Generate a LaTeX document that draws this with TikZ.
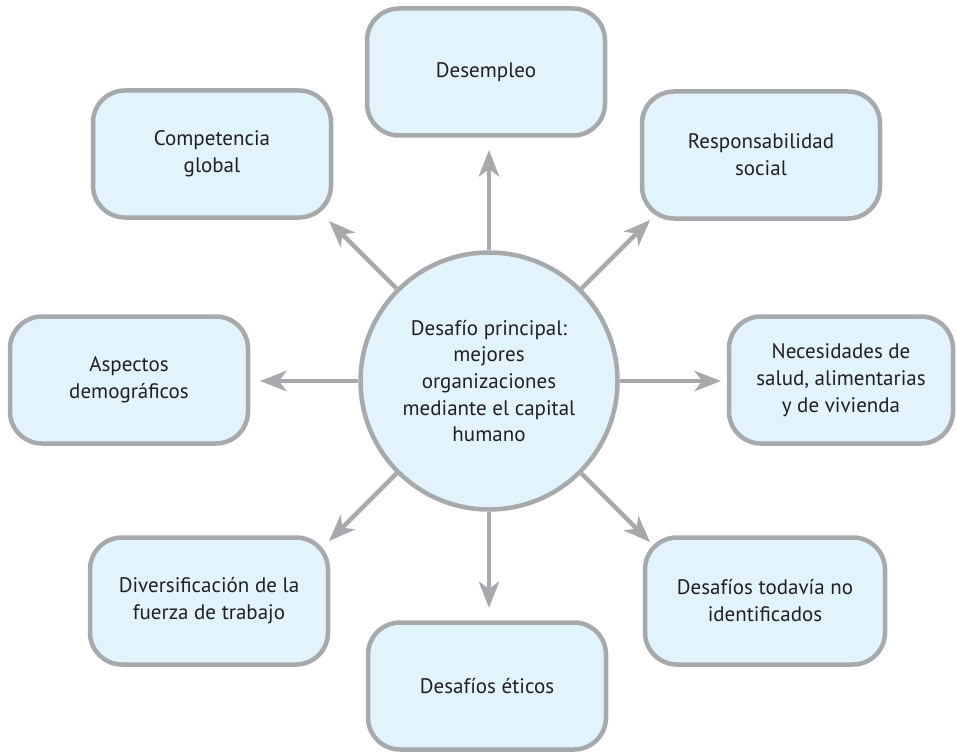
\documentclass[tikz,border=0pt]{standalone}
\usepackage{fontspec}
\setmainfont{PT Sans}
\usetikzlibrary{arrows.meta}
\definecolor{challengefill}{RGB}{225,243,251}
\definecolor{challengeline}{RGB}{167,169,172}
\definecolor{challengetext}{RGB}{35,31,32}
\tikzset{
  challenge/.style={draw=challengeline, line width=4.5pt, fill=challengefill,
    rounded corners=32pt, minimum width=238pt, minimum height=127pt,
    align=center, text=challengetext, font=\fontsize{21}{27}\selectfont},
  core/.style={circle, draw=challengeline, line width=4.5pt, fill=challengefill,
    minimum size=257pt, inner sep=0pt, align=center, text=challengetext,
    font=\fontsize{21}{26.7}\selectfont},
  push/.style={draw=challengeline, line width=4.5pt,
    -{Stealth[length=27pt,width=21pt,inset=8pt,line width=0pt]}}
}
\begin{document}
\begin{tikzpicture}[x=1pt,y=-1pt]
  \useasboundingbox (0,0) rectangle (957,754);
  \draw
    (489,381) node[core] (hub){Desafío principal:\\mejores\\organizaciones\\mediante el capital\\humano}
    (486,72) node[challenge] (desempleo){Desempleo}
    (212,154) node[challenge] (competencia){Competencia\\global}
    (761,155) node[challenge] (responsabilidad){Responsabilidad\\social}
    (129,380) node[challenge] (aspectos){Aspectos\\demográficos}
    (841,380) node[challenge, minimum width=224pt] (necesidades){Necesidades de\\salud, alimentarias\\y de vivienda}
    (209,601) node[challenge] (diversificacion){Diversificación de la\\fuerza de trabajo}
    (765,601) node[challenge, minimum width=240pt] (noidentificados){Desafíos todavía no\\identificados}
    (487,686) node[challenge] (eticos){Desafíos éticos};
  \draw
    (489,150) coordinate (tipN)
    (489,608) coordinate (tipS)
    (260,381) coordinate (tipW)
    (721,381) coordinate (tipE)
    (329,221) coordinate (tipNW)
    (650,220) coordinate (tipNE)
    (329,541) coordinate (tipSW)
    (650,542) coordinate (tipSE);
  \begin{scope}[push]
    \draw (hub) to (tipN);
    \draw (hub) to (tipS);
    \draw (hub) to (tipW);
    \draw (hub) to (tipE);
    \draw (hub) to (tipNW);
    \draw (hub) to (tipNE);
    \draw (hub) to (tipSW);
    \draw (hub) to (tipSE);
  \end{scope}
\end{tikzpicture}
\end{document}
